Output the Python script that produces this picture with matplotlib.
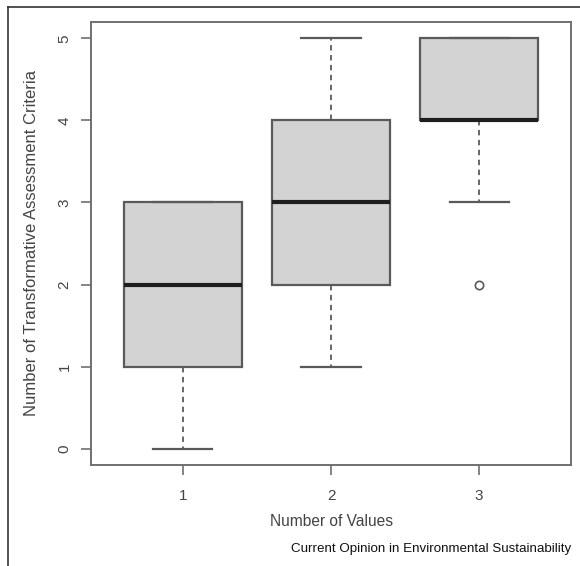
import matplotlib.pyplot as plt
from matplotlib.lines import Line2D

# box statistics
groups = [1, 2, 3]
whislo = [0, 1, 3]
q1 = [1, 2, 4]
med = [2, 3, 4]
q3 = [3, 4, 5]
whishi = [3, 5, 5]
fliers = [[], [], [2]]
yticks = [0, 1, 2, 3, 4, 5]

plt.rcParams['font.family'] = ['Liberation Sans', 'DejaVu Sans']

fig = plt.figure(figsize=(5.8, 5.66), dpi=100)
ax = fig.add_axes([91/580, 1 - 465/566, 480/580, 443/566])

stats = []
for i in range(len(groups)):
    stats.append(dict(med=med[i], q1=q1[i], q3=q3[i], whislo=whislo[i],
                      whishi=whishi[i], fliers=fliers[i]))

edge = '#5a5a5a'
ax.bxp(stats, positions=groups, widths=0.8, patch_artist=True,
       boxprops=dict(facecolor='#d3d3d3', edgecolor=edge, lw=1.6),
       medianprops=dict(color='#1e1e1e', lw=3),
       whiskerprops=dict(color=edge, lw=1.3, linestyle=(0, (3, 2.5))),
       capprops=dict(color=edge, lw=1.6),
       capwidths=0.4,
       flierprops=dict(marker='o', markersize=6, markerfacecolor='none',
                       markeredgecolor=edge, markeredgewidth=1.2))

ax.set_xlim(0.38, 3.62)
ax.set_ylim(-0.2, 5.2)
ax.set_xticks(groups)
ax.set_xticklabels([str(g) for g in groups])
ax.set_yticks(yticks)
ax.set_yticklabels([str(v) for v in yticks], rotation=90, va='center')

for s in ax.spines.values():
    s.set_color('#707070')
    s.set_linewidth(1.4)
ax.tick_params(direction='out', length=7, width=1.2, color='#707070',
               labelsize=11, labelcolor='#444444')
ax.tick_params(axis='x', pad=10)
ax.tick_params(axis='y', pad=7)

ax.set_xlabel('Number of Values', fontsize=11.2, color='#444444', labelpad=8)
ax.set_ylabel('Number of Transformative Assessment Criteria', fontsize=12,
              color='#444444', labelpad=13)

fig.text(571/580, 1 - 549/566, 'Current Opinion in Environmental Sustainability',
         ha='right', va='center', fontsize=9.6, color='#111111')

# outer frame lines (top and left)
fig.add_artist(Line2D([8/580, 1], [1 - 7/566, 1 - 7/566], color='#333333', lw=1.2,
                      transform=fig.transFigure))
fig.add_artist(Line2D([8/580, 8/580], [0, 1 - 7/566], color='#333333', lw=1.2,
                      transform=fig.transFigure))

fig.savefig('out.png', dpi=100)
